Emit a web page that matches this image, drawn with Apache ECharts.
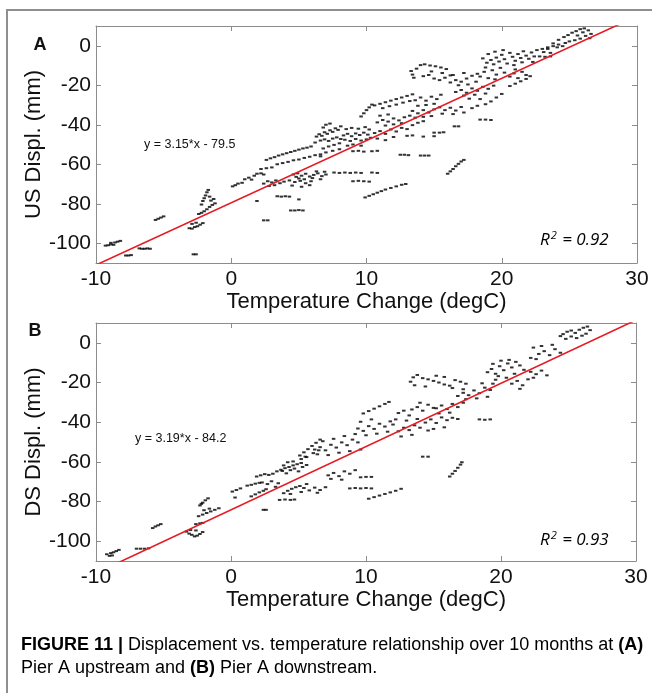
<!DOCTYPE html>
<html>
<head>
<meta charset="utf-8">
<script src="https://cdn.jsdelivr.net/npm/echarts@6/dist/echarts.min.js"></script>
<style>
html, body { margin: 0; padding: 0; background: #fff; }
#chart { width: 652px; height: 693px; }
</style>
</head>
<body>
<div id="chart"></div>
<script>
// (A) upstream displacement vs temperature change
const usPoints = [
  [-9.3,-101.2],[-9.1,-101],[-8.9,-100.6],[-8.9,-99.8],[-8.7,-100.8],[-8.6,-99.6],[-8.4,-99.2],[-8.2,-98.8],
  [-7.8,-106.2],[-7.6,-106.2],[-7.4,-106],
  [-6.8,-102.6],[-6.6,-102.8],[-6.4,-102.8],[-6.2,-102.6],[-6.0,-102.8],
  [-5.6,-88.2],[-5.4,-87.6],[-5.2,-87],[-5.0,-86.4],
  [-2.8,-105.6],[-2.6,-105.6],
  [-3.1,-92.4],[-2.9,-92.6],[-2.7,-91.8],[-2.5,-91.4],[-2.3,-90.6],[-2.1,-89.8],[-2.9,-90.2],[-2.6,-89.6],
  [-2.4,-85.2],[-2.2,-84.6],[-2.0,-83.8],[-1.8,-82.8],[-1.6,-81.6],[-1.4,-80.6],[-1.2,-79.8],
  [-2.2,-80.4],[-2.1,-78.6],[-2.0,-77.2],[-1.9,-75.8],[-1.8,-74.2],[-1.7,-73],[-1.6,-76.4],[-1.5,-78.4],[-1.3,-77.6],
  [0.1,-71.2],[0.3,-70.6],[0.5,-69.8],[0.8,-69.4],[1.0,-67.6],[1.3,-66.8],[1.5,-67.8],[1.7,-65.8],[1.9,-64.8],[2.2,-64.6],[2.4,-65.2],
  [1.9,-78.6],[2.4,-88.4],[2.7,-88.4],
  [2.6,-57.8],[2.9,-57],[3.2,-56.4],[3.5,-55.6],[3.8,-55],[4.1,-54.4],[4.4,-53.8],[4.7,-53.2],[5.0,-52.6],[5.3,-52],[5.6,-51.6],[5.9,-51],
  [3.4,-60],[3.8,-59.4],[4.2,-58.8],[4.6,-58],[5.0,-57.6],[5.4,-56.8],[5.8,-56.2],[6.2,-55.4],[6.6,-55],
  [2.2,-62.4],[2.6,-62],[3.0,-61.6],
  [2.4,-69.8],[2.7,-68.6],[3.0,-69.2],[3.3,-68.2],[3.6,-69.6],[3.9,-68.8],[2.8,-71],[3.2,-70.6],
  [3.4,-76.2],[3.7,-76.4],[4.0,-76.2],[4.3,-76.4],
  [4.4,-83.4],[4.7,-83.4],[5.0,-83.2],[5.3,-83.4],[5.0,-77.8],
  [4.3,-68.2],[4.7,-69],[5.1,-68.4],[5.5,-69.6],[5.9,-68.6],[4.5,-70.8],[5.2,-71.4],[5.8,-70.6],
  [4.6,-65.2],[4.9,-64.6],[5.2,-65.8],[5.5,-64.8],[5.8,-66.2],[6.1,-65.4],[6.4,-64.6],[6.7,-66],[7.0,-65.2],
  [5.0,-67.2],[5.4,-67.6],[6.0,-67],[6.6,-67.6],[4.8,-66.4],[6.3,-63.6],[6.9,-63.8],
  [6.8,-52],[7.2,-51],[7.6,-50.2],[8.0,-49.4],[7.0,-54],[7.5,-53.2],[8.0,-52.4],[6.6,-56],[8.6,-50.6],[9.0,-50],[9.6,-50.6],
  [6.3,-46],[6.5,-44.8],[6.7,-45.6],[6.9,-43.8],[7.1,-44.6],[7.3,-42.8],[7.5,-43.6],[7.7,-41.8],[7.9,-42.6],[8.1,-40.8],
  [6.6,-48],[6.9,-47.4],[7.2,-48.2],[7.5,-47],[7.8,-46.4],[8.1,-47.2],[6.2,-49],[7.0,-40],[7.3,-39.4],[6.8,-41.4],
  [8.3,-45.4],[8.6,-44.6],[8.9,-45.8],[9.2,-44.4],[9.5,-45.2],[9.8,-44],[10.1,-45],[8.4,-47.6],[8.8,-48.2],[9.2,-47.2],
  [9.6,-48],[10.0,-47.4],[10.3,-46.6],[8.5,-42.2],[8.9,-41.6],[9.4,-42],[9.9,-41.2],[10.2,-42.4],
  [9.6,-35.8],[9.8,-34.2],[10.0,-32.6],[10.2,-31.2],[10.4,-29.8],
  [10.6,-30.2],[11.0,-29.4],[11.4,-28.6],[11.8,-27.8],[12.2,-27],[12.6,-26.2],[13.0,-25.4],[13.4,-24.6],
  [11.2,-31.6],[11.7,-30.6],[12.2,-29.8],[12.7,-28.8],[13.2,-28],
  [10.8,-38.8],[11.2,-37.6],[11.6,-38.4],[12.0,-36.8],[12.4,-37.8],[12.8,-36.2],[13.2,-35.4],[11.4,-40.4],[12.0,-39.8],[12.6,-39.2],[11.0,-35.4],[11.6,-34.8],
  [10.6,-44.2],[11.0,-43.2],[11.4,-44.6],[11.8,-42.4],[12.2,-43.4],[12.6,-41.6],[13.0,-42.2],[13.4,-40.2],[13.8,-39],[14.2,-38.2],
  [10.8,-47],[11.4,-47.8],[12.0,-46.2],[13.0,-45.6],[13.4,-45.4],[14.2,-46],[15.0,-45.8],
  [13.4,-33],[13.8,-34.2],[14.2,-32.6],[14.6,-33.8],[15.0,-32.2],[13.6,-36.4],[14.2,-36],[14.8,-35.6],
  [12.5,-55.2],[12.8,-55.2],[13.1,-55.4],[14.0,-55.6],[14.3,-55.6],[14.6,-55.6],
  [7.6,-64.2],[8.0,-64.4],[8.4,-64.2],[8.8,-64.4],[9.2,-64.2],[9.6,-64.4],[10.4,-64.2],[10.8,-64.4],
  [9.0,-53.4],[9.4,-53.2],[9.8,-53.6],[10.4,-53.4],[10.8,-53.2],
  [9.9,-76.8],[10.2,-76],[10.5,-75.2],[10.8,-74.4],[11.1,-73.6],[11.4,-72.8],[11.8,-72],[12.2,-71.2],[12.6,-70.4],[12.9,-70],
  [9.0,-68.6],[9.4,-68.4],[9.8,-68.6],[10.2,-68.8],
  [13.3,-12.8],[13.4,-14.6],[13.5,-16.2],[13.7,-11.6],[14.0,-9.8],[14.3,-9.4],[14.7,-10],[15.1,-10.4],[15.5,-11],[15.9,-11.8],
  [14.2,-15.4],[14.6,-14.8],[15.0,-16.6],[15.4,-17.4],[15.8,-16.2],[16.2,-15],[14.8,-13],[15.6,-13.8],
  [16.2,-18.6],[16.6,-17.4],[17.0,-18.2],[17.4,-16.6],[17.8,-15.2],[18.2,-14.2],[16.8,-20],[17.5,-19.6],[18.1,-18.2],[16.4,-14.8],[17.2,-13.8],
  [16.6,-23.4],[17.0,-22.4],[17.4,-23.8],[17.8,-21.6],[18.2,-22.8],[18.6,-20.8],[19.0,-21.8],[19.4,-20.2],[17.2,-25.2],[18.0,-24.8],[18.8,-24.2],[17.6,-26.8],[18.4,-27],
  [13.6,-27.6],[14.0,-26.2],[14.4,-27.8],[14.8,-25.8],[15.2,-27],[15.5,-24.8],[13.8,-30.4],[14.4,-30],[15.0,-29.4],[15.4,-31.2],
  [15.8,-32.6],[16.2,-31.4],[16.6,-32.8],[17.0,-31],[15.6,-34.4],[16.4,-34.6],[17.2,-33.8],
  [16.5,-40.8],[16.8,-40.8],[18.4,-37.4],[18.8,-37.4],[19.2,-37.6],[15.0,-44],[15.4,-44],[15.7,-43.8],
  [16.0,-64.8],[16.2,-63.6],[16.4,-62.4],[16.6,-61],[16.8,-59.8],[17.0,-58.6],[17.2,-57.8],
  [19.6,-26.2],[20.0,-24.4],[18.8,-29.6],[19.2,-28.2],[17.8,-31.6],[18.2,-30.4],
  [18.9,-8.6],[19.2,-7.2],[19.4,-9.4],[19.6,-6],[19.8,-8],[20.0,-4.6],[20.2,-6.8],[20.4,-9],[20.6,-3.6],[20.8,-5.6],[21.0,-7.6],
  [21.2,-4.2],[21.4,-6.2],[21.6,-2.8],[21.8,-5],[19.0,-4.2],[19.5,-3],[20.1,-2.2],[20.9,-9.8],[21.5,-8.4],[18.6,-6.4],
  [22.0,-6.6],[22.4,-5.4],[22.8,-5.4],[23.2,-5.6],[23.6,-5.4],[22.2,-3.4],[22.6,-2.2],[23.0,-1.6],[23.4,-0.8],[23.8,-0.2],[24.2,0.6],[22.3,-8.2],
  [18.4,-15.6],[18.7,-13.2],[19.0,-16.4],[19.3,-12.4],[19.6,-14.6],[19.9,-11.2],[20.2,-13.6],[18.8,-11],[19.5,-17],
  [20.6,-15.6],[20.9,-14],[21.2,-16.4],[21.5,-13.2],[21.8,-14.8],[21.0,-12],
  [20.6,-20.4],[21.0,-19.2],[21.4,-18],[21.8,-16.8],[22.1,-15.4],
  [24.6,4.4],[24.9,5.4],[25.2,6.6],[25.5,7.4],[25.8,8.4],[26.1,8.8],[26.4,7.8],[26.6,6],[26.2,5],[25.8,3.6],[25.4,2.8],
  [25.0,2.2],[24.7,1.4],[26.0,6.8],[25.6,5.2],[24.2,3],[26.5,3.8],
  [23.4,-1.6],[23.8,1.2],[24.1,-0.8],[24.5,-0.2],[23.1,-3.2],[23.6,-3.6]
];

// (B) downstream
const dsPoints = [
  [-9.2,-106.6],[-9.0,-107.4],[-8.9,-106],[-8.7,-105.6],[-8.5,-105],[-8.3,-104.4],[-8.8,-107.2],
  [-7.0,-103.8],[-6.7,-103.8],[-6.4,-103.8],[-6.1,-103.6],
  [-5.8,-93.4],[-5.6,-92.6],[-5.4,-92],[-5.2,-91.4],
  [-3.3,-95.2],[-3.1,-96.2],[-2.9,-96.8],[-2.7,-97.6],[-2.5,-97.2],[-2.3,-96.4],[-2.1,-95.4],[-3.0,-94.4],[-2.6,-94.6],
  [-2.6,-91.4],[-2.3,-91],[-2.1,-90.8],
  [-2.3,-82],[-2.1,-80.6],[-1.9,-79.4],[-1.7,-78.4],[-2.2,-81.2],
  [-2.4,-87.4],[-2.1,-86.6],[-1.8,-85.8],[-1.5,-85],[-1.2,-84.2],[-0.9,-83.4],[-2.0,-84.4],[-1.6,-83.6],
  [0.1,-75],[0.4,-74.2],[0.7,-73.4],[0.3,-78],
  [1.2,-72],[1.5,-71.6],[1.8,-71],[2.1,-70.6],
  [1.5,-77.4],[1.8,-76.4],[2.1,-75.4],[2.4,-74.6],
  [2.4,-84.2],[2.6,-84.2],
  [1.9,-67.4],[2.2,-66.8],[2.5,-66.2],[2.8,-66.6],[3.1,-66],
  [3.4,-64.8],[3.7,-64],[4.0,-63.2],[4.3,-62.6],[4.6,-61.8],[4.9,-61.2],[5.2,-60.6],
  [3.9,-75.8],[4.2,-74.6],[4.5,-73.6],[4.8,-72.8],[5.1,-72.2],[4.4,-76.2],
  [3.6,-79.2],[4.0,-79],[4.4,-79.2],[4.7,-79],
  [5.1,-56.8],[5.4,-55.2],[5.7,-53.6],[6.0,-52],[6.3,-50.4],[6.6,-48.8],[5.6,-57.6],[6.1,-55.6],[6.5,-54.2],
  [3.8,-64.6],[4.1,-65.8],[4.4,-64.2],[4.7,-63.4],[5.0,-64.8],[5.3,-62.6],[5.6,-61.6],[3.9,-61.8],[4.6,-59.8],[5.2,-58.6],[5.5,-57.4],[4.2,-60.2],
  [2.3,-70.4],[2.7,-71.2],[3.0,-69.8],[3.3,-72.6],[2.6,-73.8],[3.5,-70.8],
  [5.4,-73.2],[5.8,-74.4],[6.2,-73],[6.6,-74.2],[7.0,-72.8],[5.6,-71.2],[6.4,-75.6],[5.2,-75.2],
  [7.2,-66.8],[7.6,-65.6],[8.0,-67.2],[8.4,-64.8],[8.8,-66],[9.2,-64.2],[7.4,-68.6],[8.2,-69],[9.6,-67.8],[10.0,-67.6],[10.4,-67.6],
  [8.8,-73.4],[9.2,-73.2],[9.6,-73.4],[10.0,-73.2],[10.4,-73.4],
  [10.2,-78.6],[10.6,-77.8],[11.0,-77],[11.4,-76.2],[11.8,-75.4],[12.2,-74.6],[12.6,-73.6],
  [6.2,-53.8],[6.6,-52.6],[7.0,-54.2],[7.4,-51.4],[7.8,-52.8],[8.2,-50.2],[8.6,-51.6],[9.0,-48.8],[9.4,-50.2],
  [6.8,-49.6],[7.6,-48.4],[8.4,-47],[9.2,-46],[6.4,-56.2],[7.2,-56.6],[8.0,-55.4],[8.8,-54.6],[9.6,-53.8],
  [9.4,-43.2],[9.8,-44.4],[10.2,-42],[10.6,-43.4],[11.0,-40.8],[11.4,-42.2],[11.8,-39.6],[12.0,-41.2],
  [10.0,-46.6],[10.8,-45.8],[11.6,-44.8],[9.6,-39.8],[10.4,-38.6],
  [9.8,-35.6],[10.2,-34.4],[10.6,-33.2],[11.0,-32],[11.4,-30.8],[11.7,-29.8],
  [12.4,-44.6],[12.8,-42.8],[13.2,-44],[13.6,-41.6],[14.0,-42.8],[12.6,-47.2],[13.4,-46.4],[12.2,-38.6],[13.0,-39.2],[13.8,-38.4],
  [13.4,-33.6],[13.8,-32.4],[14.2,-34.2],[14.6,-31.2],[15.0,-32.8],[14.0,-30.2],
  [12.4,-35.4],[12.8,-34.2],[13.2,-36.6],
  [14.2,-57.4],[14.6,-57.4],
  [14.4,-40.2],[14.8,-38.6],[15.2,-40.4],[15.6,-37.6],[16.0,-39],[16.4,-37.8],[16.8,-38.4],[15.0,-43.4],[15.8,-42.6],[14.6,-44.2],
  [13.3,-19.6],[13.5,-17.4],[13.8,-16.2],[14.2,-17.8],[14.6,-18.4],[15.0,-19.2],[15.4,-20],[15.8,-21],[16.2,-21.6],
  [13.6,-21.4],[14.4,-22],[15.2,-16.6],[15.8,-17.2],
  [16.6,-18.8],[17.0,-19.6],[17.4,-20.6],[16.4,-22.8],[17.2,-23.4],
  [16.8,-26.8],[17.2,-25.2],[17.6,-26.4],[18.0,-24],[18.4,-25.4],[18.8,-22.6],[19.2,-23.8],[17.4,-28.4],[18.2,-28],[19.0,-27.2],[18.6,-20.4],[19.4,-20.6],
  [15.2,-33],[15.6,-31.6],[16.0,-33.4],[16.4,-30.8],[16.8,-32.4],[17.2,-30.2],[15.4,-35.6],[16.2,-35.2],
  [18.4,-38.6],[18.8,-38.8],[19.2,-38.6],
  [16.2,-67.4],[16.4,-66],[16.6,-64.6],[16.8,-63],[17.0,-61.4],[17.1,-60.2],
  [19.0,-14.8],[19.3,-13.2],[19.6,-15.6],[19.9,-11.8],[20.2,-13.8],[20.5,-10.4],[20.8,-12.4],[21.1,-9.6],[21.4,-11.4],[21.7,-13.6],
  [19.4,-10.6],[20.0,-9],[20.6,-8.6],[19.8,-16.8],[21.0,-15.6],[19.6,-18.6],[20.4,-17.6],
  [20.8,-20.6],[21.2,-19.2],[21.6,-21.4],[22.0,-18.4],[22.4,-17.6],[21.4,-23.2],
  [22.2,-14.6],[22.6,-15.8],[23.0,-14],[23.4,-16.4],
  [22.8,-5.6],[23.2,-4.2],[23.6,-6.2],[24.0,-3.2],[24.4,-5],[22.4,-2.4],[23.0,-1.6],[23.8,-1],[22.2,-7.6],[22.6,-8.2],
  [24.6,4.4],[24.9,5.6],[25.2,6.2],[25.5,5],[25.8,6.6],[26.1,7.6],[26.4,8.2],[26.6,6.4],[25.2,3.2],[25.6,2.4],[26.0,3.6],[24.8,2],[26.3,4.6],[24.4,3.4]
];

// linear fits shown on the panels: [slope, intercept]
const usFit = [3.15, -79.5];
const dsFit = [3.19, -84.2];
const usR2 = '0.92';
const dsR2 = '0.93';

const xRange = [-10, 30];
const yRange = [-110, 10];
const yTicks = [-100, -80, -60, -40, -20, 0];

const FONT = 'Liberation Sans, Arial, Helvetica, sans-serif';
const GRAY = '#8c8c8c';
const XNAME = 'Temperature Change (degC)';

function fitLine(f) {
  return xRange.map(function (x) { return [x, f[0] * x + f[1]]; });
}

function makeX(g) {
  return [{
    gridIndex: g, type: 'value', position: 'bottom',
    min: xRange[0], max: xRange[1], interval: 10,
    name: XNAME, nameLocation: 'middle', nameGap: 17,
    nameTextStyle: { fontSize: 22, color: '#111', fontFamily: FONT },
    axisLine: { show: true, onZero: false, lineStyle: { color: GRAY, width: 1 } },
    axisTick: { show: true, inside: true, length: 5, lineStyle: { color: GRAY } },
    axisLabel: { fontSize: 21, color: '#111', fontFamily: FONT, margin: 6 },
    splitLine: { show: false }
  }, {
    gridIndex: g, type: 'value', position: 'top',
    min: xRange[0], max: xRange[1], interval: 10,
    axisLine: { show: true, onZero: false, lineStyle: { color: GRAY, width: 1 } },
    axisTick: { show: true, inside: true, length: 5, lineStyle: { color: GRAY } },
    axisLabel: { show: false },
    splitLine: { show: false }
  }];
}

function makeY(g, name) {
  return [{
    gridIndex: g, type: 'value', position: 'left',
    min: yRange[0], max: yRange[1],
    name: name, nameLocation: 'middle', nameGap: 51, nameMoveOverlap: false,
    nameTextStyle: { fontSize: 22, color: '#111', fontFamily: FONT },
    axisLine: { show: true, onZero: false, lineStyle: { color: GRAY, width: 1 } },
    axisTick: { show: true, inside: true, length: 5, customValues: yTicks, lineStyle: { color: GRAY } },
    axisLabel: { fontSize: 21, color: '#111', fontFamily: FONT, margin: 5, customValues: yTicks },
    splitLine: { show: false }
  }, {
    gridIndex: g, type: 'value', position: 'right',
    min: yRange[0], max: yRange[1],
    axisLine: { show: true, onZero: false, lineStyle: { color: GRAY, width: 1 } },
    axisTick: { show: true, inside: true, length: 5, customValues: yTicks, lineStyle: { color: GRAY } },
    axisLabel: { show: false },
    splitLine: { show: false }
  }];
}

function scatter(data, xi, yi) {
  return {
    type: 'scatter', data: data, xAxisIndex: xi, yAxisIndex: yi,
    symbol: 'rect', symbolSize: [3.5, 2],
    itemStyle: { color: '#000' }, silent: true, z: 2
  };
}

function fit(f, xi, yi) {
  return {
    type: 'line', data: fitLine(f), xAxisIndex: xi, yAxisIndex: yi,
    showSymbol: false, clip: true, silent: true, z: 3,
    lineStyle: { color: '#e41c23', width: 1.6 }
  };
}

function eqText(f) {
  return 'y = ' + f[0].toFixed(2) + '*x - ' + Math.abs(f[1]).toFixed(1);
}

const r2Rich = {
  i: { fontSize: 17, fontStyle: 'italic', fontFamily: 'Open Sans, sans-serif', color: '#222', lineHeight: 20 },
  s: { fontSize: 11, fontStyle: 'italic', fontFamily: 'Open Sans, sans-serif', color: '#222', verticalAlign: 'top', lineHeight: 20, padding: [0, 1, 0, 1] }
};

const capRich = {
  b: { fontSize: 18, fontWeight: 'bold', fontFamily: FONT, color: '#1a1a1a' },
  n: { fontSize: 18, fontFamily: FONT, color: '#333' }
};

const chart = echarts.init(document.getElementById('chart'), null, { renderer: 'canvas' });

chart.setOption({
  backgroundColor: '#fff',
  animation: false,
  grid: [
    { left: 96, top: 26, width: 541, height: 237, containLabel: false },
    { left: 96, top: 323, width: 540, height: 238, containLabel: false }
  ],
  xAxis: makeX(0).concat(makeX(1)),
  yAxis: makeY(0, 'US Displ. (mm)').concat(makeY(1, 'DS Displ. (mm)')),
  series: [
    scatter(usPoints, 0, 0),
    fit(usFit, 0, 0),
    scatter(dsPoints, 2, 2),
    fit(dsFit, 2, 2)
  ],
  graphic: [
    { type: 'polyline', shape: { points: [[7, 693], [7, 10], [652, 10]] },
      style: { stroke: '#8f8f8f', lineWidth: 2, fill: null }, silent: true },
    { type: 'text', x: 40, y: 45, style: { text: 'A', fontSize: 18, fontWeight: 'bold', fontFamily: FONT, fill: '#111', align: 'center', verticalAlign: 'middle' } },
    { type: 'text', x: 35, y: 331, style: { text: 'B', fontSize: 18, fontWeight: 'bold', fontFamily: FONT, fill: '#111', align: 'center', verticalAlign: 'middle' } },
    { type: 'text', x: 144, y: 145, style: { text: eqText(usFit), fontSize: 12.5, fontFamily: FONT, fill: '#111', verticalAlign: 'middle' } },
    { type: 'text', x: 135, y: 439, style: { text: eqText(dsFit), fontSize: 12.5, fontFamily: FONT, fill: '#111', verticalAlign: 'middle' } },
    { type: 'text', x: 540, y: 240, style: { text: '{i|R}{s|2}{i| = ' + usR2 + '}', rich: r2Rich, verticalAlign: 'middle' } },
    { type: 'text', x: 540, y: 540, style: { text: '{i|R}{s|2}{i| = ' + dsR2 + '}', rich: r2Rich, verticalAlign: 'middle' } },
    { type: 'text', x: 21, y: 645, style: { text: '{b|FIGURE 11 | }{n|Displacement vs. temperature relationship over 10 months at }{b|(A)}', rich: capRich, verticalAlign: 'middle' } },
    { type: 'text', x: 21, y: 668, style: { text: '{n|Pier A upstream and }{b|(B)}{n| Pier A downstream.}', rich: capRich, verticalAlign: 'middle' } }
  ]
});
</script>
</body>
</html>
